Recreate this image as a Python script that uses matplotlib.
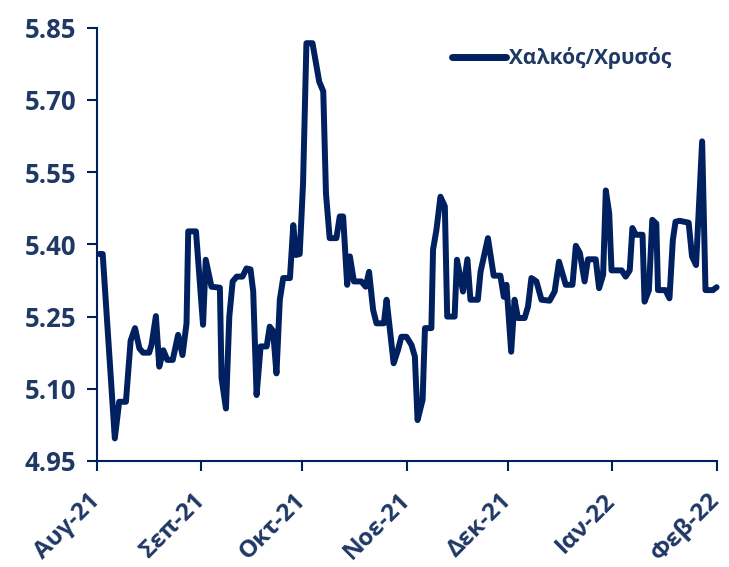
import matplotlib.pyplot as plt
import matplotlib.transforms as mtransforms
import pandas as pd

# days since 1 Aug 2021 and copper/gold ratio at each vertex of the line
days = [0.7, 1.7, 5.3, 6.6, 8.6, 10.0, 11.3, 12.6, 13.7, 15.5, 16.2, 17.5, 18.5, 19.7,
        20.9, 22.5, 24.1, 25.4, 26.6, 27.1, 29.4, 31.5, 32.3, 34.0, 36.5, 37.0, 38.3,
        39.3, 40.3, 41.5, 43.2, 44.4, 45.6, 46.4, 47.4, 48.6, 50.4, 51.3, 52.3, 53.3,
        54.3, 55.3, 57.3, 58.3, 59.1, 60.2, 61.2, 62.2, 64.0, 66.0, 67.2, 68.0, 69.1,
        71.1, 72.1, 73.1, 74.3, 75.1, 76.3, 78.5, 79.8, 80.8, 82.0, 83.0, 85.2, 86.0,
        88.1, 89.4, 90.4, 91.9, 93.4, 94.4, 95.2, 96.7, 97.4, 99.3, 99.8, 100.8, 102.0,
        103.3, 104.0, 106.2, 106.9, 108.7, 110.0, 110.9, 113.1, 113.9, 116.1, 117.8,
        119.8, 120.8, 121.6, 123.0, 124.0, 125.0, 127.0, 128.0, 129.0, 130.5, 132.0,
        134.4, 135.9, 137.2, 139.2, 141.2, 142.2, 143.4, 144.8, 145.8, 148.1, 149.1,
        150.3, 151.1, 152.1, 152.8, 155.8, 157.0, 158.2, 159.0, 160.0, 162.0, 162.6,
        163.9, 164.9, 166.1, 166.6, 168.8, 170.0, 171.0, 171.8, 173.0, 175.7, 176.7,
        177.9, 179.7, 180.7, 182.9, 184.0]
ratio = [5.380, 5.380, 4.997, 5.073, 5.073, 5.200, 5.226, 5.184, 5.175, 5.175, 5.191,
         5.251, 5.146, 5.180, 5.160, 5.160, 5.212, 5.170, 5.236, 5.427, 5.427, 5.233,
         5.368, 5.312, 5.310, 5.122, 5.059, 5.250, 5.323, 5.333, 5.333, 5.350, 5.348,
         5.302, 5.087, 5.188, 5.188, 5.229, 5.220, 5.132, 5.285, 5.330, 5.330, 5.440,
         5.378, 5.380, 5.527, 5.818, 5.818, 5.738, 5.718, 5.506, 5.413, 5.413, 5.458,
         5.458, 5.316, 5.375, 5.323, 5.323, 5.312, 5.343, 5.264, 5.236, 5.236, 5.285,
         5.153, 5.181, 5.208, 5.208, 5.191, 5.167, 5.035, 5.077, 5.226, 5.226, 5.389,
         5.430, 5.499, 5.479, 5.250, 5.250, 5.368, 5.302, 5.369, 5.285, 5.285, 5.343,
         5.413, 5.335, 5.335, 5.291, 5.316, 5.177, 5.285, 5.247, 5.247, 5.271, 5.330,
         5.323, 5.285, 5.283, 5.302, 5.364, 5.316, 5.316, 5.397, 5.382, 5.323, 5.369,
         5.369, 5.309, 5.337, 5.512, 5.465, 5.346, 5.346, 5.333, 5.346, 5.434, 5.420,
         5.420, 5.281, 5.305, 5.451, 5.443, 5.305, 5.305, 5.288, 5.409, 5.447, 5.449,
         5.445, 5.375, 5.357, 5.614, 5.305, 5.305, 5.311]

month_starts = ["2021-08-01", "2021-09-01", "2021-10-01", "2021-11-01",
                "2021-12-01", "2022-01-01", "2022-02-01"]
month_labels = ["Αυγ-21", "Σεπ-21", "Οκτ-21", "Νοε-21", "Δεκ-21", "Ιαν-22", "Φεβ-22"]
y_ticks = [4.95, 5.10, 5.25, 5.40, 5.55, 5.70, 5.85]

line_color = "#002060"
text_color = "#1f3864"
plt.rcParams["font.family"] = ["Open Sans", "DejaVu Sans"]

dates = pd.Timestamp("2021-08-01") + pd.to_timedelta(days, unit="D")
ticks = pd.to_datetime(month_starts)

fig = plt.figure(figsize=(7.29, 5.67), dpi=100)
ax = fig.add_axes([0.133, 0.187, 0.850, 0.764])

ax.plot(dates, ratio, color=line_color, lw=4.3, solid_joinstyle="round",
        solid_capstyle="round", label="Χαλκός/Χρυσός", clip_on=False)

ax.set_xlim(ticks[0], ticks[-1])
ax.set_ylim(4.95, 5.85)
ax.set_yticks(y_ticks)
ax.set_yticklabels([f"{v:.2f}" for v in y_ticks], fontsize=18.5,
                   fontweight="bold", color=text_color)
ax.set_xticks(ticks)
ax.set_xticklabels(month_labels, rotation=45, ha="right", va="center",
                   rotation_mode="anchor", fontsize=17.5, fontweight="bold",
                   color=text_color)
shift = mtransforms.ScaledTranslation(5 / 100, 0, fig.dpi_scale_trans)
for lbl in ax.get_xticklabels():
    lbl.set_transform(lbl.get_transform() + shift)

for side in ["top", "right"]:
    ax.spines[side].set_visible(False)
for side in ["left", "bottom"]:
    ax.spines[side].set_color(line_color)
    ax.spines[side].set_linewidth(1.5)
ax.tick_params(axis="both", direction="out", length=7, width=1.5, color=line_color)
ax.tick_params(axis="x", pad=19)
ax.tick_params(axis="y", pad=8)

leg = ax.legend(loc="upper left", bbox_to_anchor=(0.573, 0.955), frameon=False,
                borderpad=0, borderaxespad=0, handlelength=2.6, handletextpad=0.15,
                prop={"size": 15, "weight": "bold"})
for t in leg.get_texts():
    t.set_color(text_color)
leg.get_lines()[0].set_linewidth(5)

fig.savefig("out.png", dpi=100)
